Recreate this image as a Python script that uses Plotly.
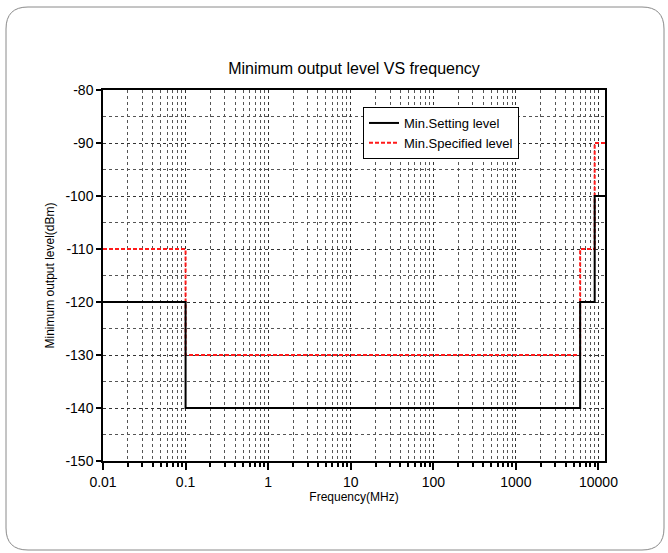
import plotly.graph_objects as go

# Data
freq_setting = [0.01, 0.1, 6000, 9000, 12000]
level_setting = [-120, -140, -120, -100, -100]
freq_specified = [0.01, 0.1, 6000, 9000, 12000]
level_specified = [-110, -130, -110, -90, -90]
x_tick_vals = [0.01, 0.1, 1, 10, 100, 1000, 10000]
x_tick_text = ["0.01", "0.1", "1", "10", "100", "1000", "10000"]
y_tick_vals = [-150, -140, -130, -120, -110, -100, -90, -80]
y_tick_text = ["-150", "-140", "-130", "-120", "-110", "-100", "-90", "-80"]

FONT = "Liberation Sans, Arial, sans-serif"

fig = go.Figure()
fig.add_trace(go.Scatter(
    x=freq_specified, y=level_specified, mode="lines", line_shape="hv",
    name="Min.Specified level", legendrank=2,
    line=dict(color="#ff1a1a", width=2, dash="4px,2px"),
))
fig.add_trace(go.Scatter(
    x=freq_setting, y=level_setting, mode="lines", line_shape="hv",
    name="Min.Setting level", legendrank=1,
    line=dict(color="black", width=2),
))

L, R, T, B = 103, 63, 90, 92
W, H = 668, 553
pw, ph = W - L - R, H - T - B


def px(x):
    return (x - L) / pw


def py(y):
    return (H - B - y) / ph


x0, x1, y0, y1, r = 6, 664, 7, 550, 22
path = (
    f"M {px(x0 + r)},{py(y0)} L {px(x1 - r)},{py(y0)} "
    f"Q {px(x1)},{py(y0)} {px(x1)},{py(y0 + r)} "
    f"L {px(x1)},{py(y1 - r)} Q {px(x1)},{py(y1)} {px(x1 - r)},{py(y1)} "
    f"L {px(x0 + r)},{py(y1)} Q {px(x0)},{py(y1)} {px(x0)},{py(y1 - r)} "
    f"L {px(x0)},{py(y0 + r)} Q {px(x0)},{py(y0)} {px(x0 + r)},{py(y0)} Z"
)

fig.update_layout(
    width=W, height=H,
    margin=dict(l=L, r=R, t=T, b=B),
    paper_bgcolor="white", plot_bgcolor="white",
    font=dict(family=FONT, color="black"),
    title=dict(text="Minimum output level VS frequency", x=0.5, xref="paper",
               xanchor="center", y=1 - 68 / H, yanchor="middle",
               font=dict(size=16, family=FONT)),
    legend=dict(x=px(363), y=py(107), xanchor="left", yanchor="top",
                bordercolor="black", borderwidth=1, bgcolor="white",
                font=dict(size=13, family=FONT), tracegroupgap=0),
    shapes=[dict(type="path", xref="paper", yref="paper", path=path,
                 line=dict(color="#8a8a8a", width=1), layer="below")],
    showlegend=True,
)

fig.update_xaxes(
    type="log", range=[-2, 4.0792],
    tickvals=x_tick_vals, ticktext=x_tick_text,
    ticks="outside", ticklen=7, tickwidth=1.5, tickcolor="black",
    tickfont=dict(size=14, family=FONT),
    showline=True, linecolor="black", linewidth=1.5, mirror=True,
    showgrid=True, gridcolor="#333333", griddash="dot", gridwidth=1,
    minor=dict(dtick="D1", ticks="outside", ticklen=4, tickcolor="black",
               showgrid=True, gridcolor="#555555", griddash="dot", gridwidth=1),
    title=dict(text="Frequency(MHz)", font=dict(size=12, family=FONT), standoff=4),
    zeroline=False,
)
fig.update_yaxes(
    range=[-150, -80], tickvals=y_tick_vals, ticktext=y_tick_text,
    ticks="outside", ticklen=5, tickwidth=1.5, tickcolor="black",
    tickfont=dict(size=14, family=FONT),
    showline=True, linecolor="black", linewidth=1.5, mirror=True,
    showgrid=True, gridcolor="#333333", griddash="dot", gridwidth=1,
    minor=dict(dtick=5, tick0=-150, ticks="", showgrid=True, gridcolor="#555555",
               griddash="dot", gridwidth=1),
    title=dict(text="Minimum output level(dBm)", font=dict(size=12, family=FONT), standoff=8),
    zeroline=False,
)

fig.write_html("out.html")
